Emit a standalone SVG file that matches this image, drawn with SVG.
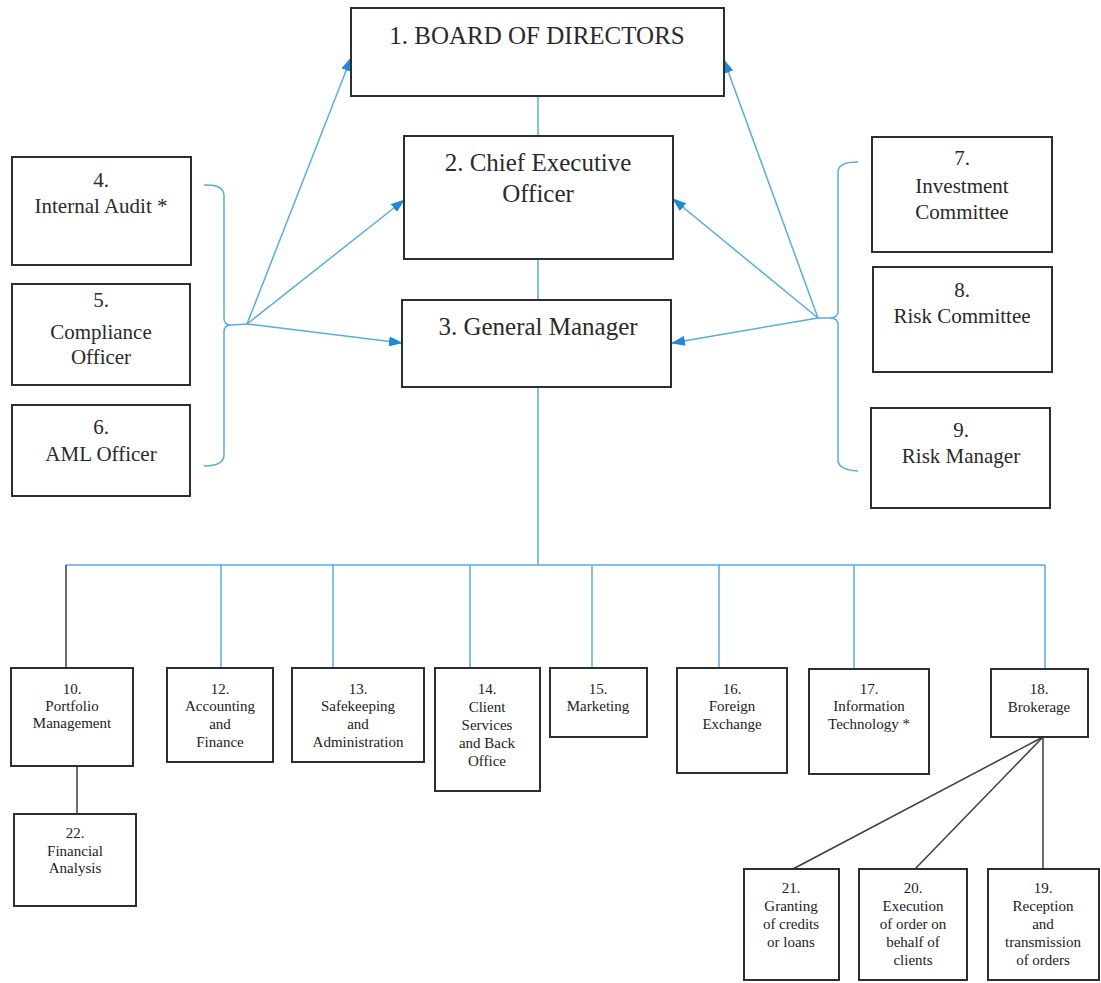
<svg xmlns="http://www.w3.org/2000/svg" width="1101" height="983" viewBox="0 0 1101 983">
<style>
.box{fill:#fff;stroke:#2b2f33;stroke-width:2}
text{fill:#2a2a2a;text-anchor:middle}
.big{font-size:25px}
.mid{font-size:21px}
.sm{font-size:15px;fill:#222}
.blue{fill:none;stroke:#5aacdf;stroke-width:1.5}
.arr{fill:none;stroke:#5aacdf;stroke-width:1.5;marker-end:url(#ah)}
.dark{fill:none;stroke:#3a3d40;stroke-width:1.5}
</style>
<defs>
<marker id="ah" markerUnits="userSpaceOnUse" markerWidth="14" markerHeight="10" refX="13" refY="5" orient="auto">
<path d="M0,0 L14,5 L0,10 Z" fill="#1f88d6"/>
</marker>
</defs>
<g id="connectors">
<line class="blue" x1="538" y1="96" x2="538" y2="136"/>
<line class="blue" x1="538" y1="259" x2="538" y2="300"/>
<line class="blue" x1="538" y1="387" x2="538" y2="565"/>
<line class="blue" x1="66" y1="565" x2="1045" y2="565"/>
<line class="dark" x1="66" y1="565" x2="66" y2="668"/>
<line class="blue" x1="221" y1="565" x2="221" y2="668"/>
<line class="blue" x1="333" y1="565" x2="333" y2="668"/>
<line class="blue" x1="470" y1="565" x2="470" y2="668"/>
<line class="blue" x1="592" y1="565" x2="592" y2="668"/>
<line class="blue" x1="719" y1="565" x2="719" y2="668"/>
<line class="blue" x1="854" y1="565" x2="854" y2="668"/>
<line class="blue" x1="1045" y1="565" x2="1045" y2="668"/>
<line class="dark" x1="77" y1="766" x2="77" y2="814"/>
<line class="dark" x1="1043" y1="737" x2="793" y2="869"/>
<line class="dark" x1="1043" y1="737" x2="915" y2="869"/>
<line class="dark" x1="1043" y1="737" x2="1043" y2="869"/>
<path class="blue" d="M204,185 Q224,184 224,196 L224,318 Q224,325 231,325 Q224,325 224,332 L224,455 Q224,466 204,466"/>
<line class="blue" x1="231" y1="325" x2="247" y2="324"/>
<line class="arr" x1="247" y1="324" x2="351" y2="58"/>
<line class="arr" x1="247" y1="324" x2="404" y2="200"/>
<line class="arr" x1="247" y1="324" x2="402" y2="343"/>
<path class="blue" d="M858,162 Q838,162 838,172 L838,311 Q838,318 830,318 Q838,318 838,325 L838,460 Q838,470 858,471"/>
<line class="blue" x1="830" y1="318" x2="818" y2="318"/>
<line class="arr" x1="818" y1="318" x2="724" y2="60"/>
<line class="arr" x1="818" y1="318" x2="673" y2="199"/>
<line class="arr" x1="818" y1="318" x2="672" y2="343"/>
</g>
<g font-family="Liberation Serif, Tinos, Times New Roman, DejaVu Serif, serif">
<g id="n1"><rect class="box" x="351" y="8" width="373" height="88"/><text class="big" x="537" y="44">1. BOARD OF DIRECTORS</text></g>
<g id="n2"><rect class="box" x="404" y="136" width="269" height="123"/><text class="big" x="538" y="171">2. Chief Executive</text><text class="big" x="538" y="202">Officer</text></g>
<g id="n3"><rect class="box" x="402" y="300" width="269" height="87"/><text class="big" x="538" y="335">3. General Manager</text></g>
<g id="n4"><rect class="box" x="12" y="157" width="179" height="108"/><text class="mid" x="101" y="187">4.</text><text class="mid" x="101" y="213">Internal Audit *</text></g>
<g id="n5"><rect class="box" x="12" y="284" width="178" height="101"/><text class="mid" x="101" y="307">5.</text><text class="mid" x="101" y="339">Compliance</text><text class="mid" x="101" y="364">Officer</text></g>
<g id="n6"><rect class="box" x="12" y="405" width="178" height="91"/><text class="mid" x="101" y="434">6.</text><text class="mid" x="101" y="461">AML Officer</text></g>
<g id="n7"><rect class="box" x="872" y="137" width="180" height="115"/><text class="mid" x="962" y="165">7.</text><text class="mid" x="962" y="193">Investment</text><text class="mid" x="962" y="219">Committee</text></g>
<g id="n8"><rect class="box" x="873" y="267" width="179" height="105"/><text class="mid" x="962" y="297">8.</text><text class="mid" x="962" y="323">Risk Committee</text></g>
<g id="n9"><rect class="box" x="871" y="408" width="179" height="100"/><text class="mid" x="961" y="437">9.</text><text class="mid" x="961" y="463">Risk Manager</text></g>
<g id="n10"><rect class="box" x="11" y="668" width="122" height="98"/><text class="sm" x="72" y="694">10.</text><text class="sm" x="72" y="711">Portfolio</text><text class="sm" x="72" y="728">Management</text></g>
<g id="n12"><rect class="box" x="167" y="668" width="106" height="94"/><text class="sm" x="220" y="694">12.</text><text class="sm" x="220" y="711">Accounting</text><text class="sm" x="220" y="729">and</text><text class="sm" x="220" y="747">Finance</text></g>
<g id="n13"><rect class="box" x="292" y="668" width="132" height="94"/><text class="sm" x="358" y="694">13.</text><text class="sm" x="358" y="711">Safekeeping</text><text class="sm" x="358" y="729">and</text><text class="sm" x="358" y="747">Administration</text></g>
<g id="n14"><rect class="box" x="435" y="668" width="105" height="123"/><text class="sm" x="487" y="694">14.</text><text class="sm" x="487" y="712">Client</text><text class="sm" x="487" y="730">Services</text><text class="sm" x="487" y="748">and Back</text><text class="sm" x="487" y="766">Office</text></g>
<g id="n15"><rect class="box" x="550" y="668" width="97" height="69"/><text class="sm" x="598" y="694">15.</text><text class="sm" x="598" y="711">Marketing</text></g>
<g id="n16"><rect class="box" x="677" y="668" width="110" height="105"/><text class="sm" x="732" y="694">16.</text><text class="sm" x="732" y="711">Foreign</text><text class="sm" x="732" y="729">Exchange</text></g>
<g id="n17"><rect class="box" x="809" y="669" width="120" height="105"/><text class="sm" x="869" y="694">17.</text><text class="sm" x="869" y="711">Information</text><text class="sm" x="869" y="729">Technology *</text></g>
<g id="n18"><rect class="box" x="991" y="669" width="97" height="68"/><text class="sm" x="1039" y="694">18.</text><text class="sm" x="1039" y="712">Brokerage</text></g>
<g id="n22"><rect class="box" x="14" y="814" width="122" height="92"/><text class="sm" x="75" y="838">22.</text><text class="sm" x="75" y="856">Financial</text><text class="sm" x="75" y="873">Analysis</text></g>
<g id="n21"><rect class="box" x="744" y="869" width="95" height="111"/><text class="sm" x="791" y="893">21.</text><text class="sm" x="791" y="911">Granting</text><text class="sm" x="791" y="929">of credits</text><text class="sm" x="791" y="947">or loans</text></g>
<g id="n20"><rect class="box" x="859" y="869" width="108" height="111"/><text class="sm" x="913" y="893">20.</text><text class="sm" x="913" y="911">Execution</text><text class="sm" x="913" y="929">of order on</text><text class="sm" x="913" y="947">behalf of</text><text class="sm" x="913" y="965">clients</text></g>
<g id="n19"><rect class="box" x="988" y="869" width="111" height="111"/><text class="sm" x="1043" y="893">19.</text><text class="sm" x="1043" y="911">Reception</text><text class="sm" x="1043" y="929">and</text><text class="sm" x="1043" y="947">transmission</text><text class="sm" x="1043" y="965">of orders</text></g>
</g>
</svg>
